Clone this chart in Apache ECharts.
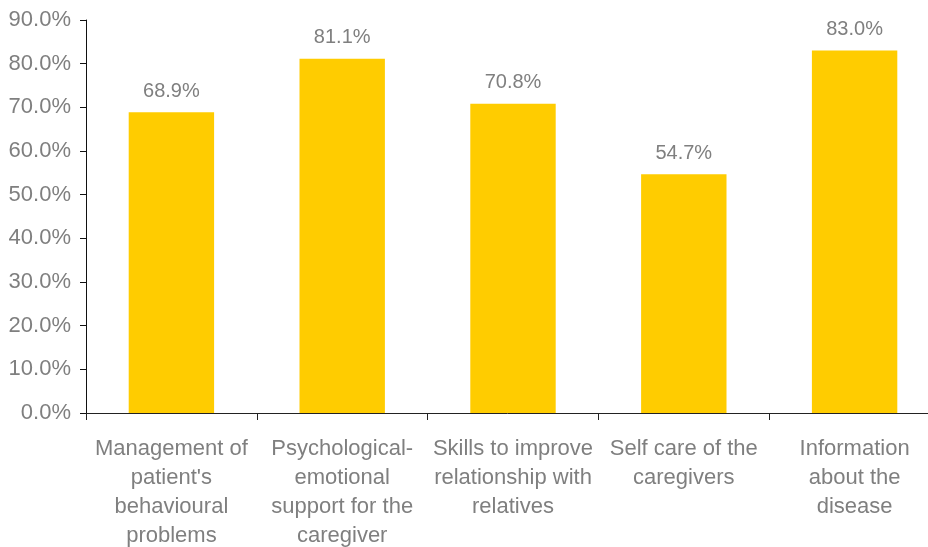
<!DOCTYPE html>
<html>
<head>
<meta charset="utf-8">
<script src="https://cdn.jsdelivr.net/npm/echarts@6/dist/echarts.min.js"></script>
<style>
  html, body { margin: 0; padding: 0; background: #fff; }
  #chart { width: 928px; height: 547px; }
</style>
</head>
<body>
<div id="chart"></div>
<script>
const categories = [
  "Management of\npatient's\nbehavioural\nproblems",
  "Psychological-\nemotional\nsupport for the\ncaregiver",
  "Skills to improve\nrelationship with\nrelatives",
  "Self care of the\ncaregivers",
  "Information\nabout the\ndisease"
];
const values = [68.9, 81.1, 70.8, 54.7, 83.0];

const textColor = "#7f7f7f";
const font = "'Liberation Sans', Arial, sans-serif";

const chart = echarts.init(document.getElementById("chart"));
chart.setOption({
  animation: false,
  grid: {
    left: 86,
    right: -12,
    top: 20,
    bottom: 134,
    outerBoundsMode: "none"
  },
  xAxis: {
    type: "category",
    data: categories,
    axisLine: { lineStyle: { color: "#222", width: 1 } },
    axisTick: { show: true, length: 7, lineStyle: { color: "#222" } },
    axisLabel: {
      interval: 0,
      margin: 21,
      color: textColor,
      fontFamily: font,
      fontSize: 22,
      lineHeight: 29
    }
  },
  yAxis: {
    type: "value",
    min: 0,
    max: 90,
    interval: 10,
    axisLine: { show: true, lineStyle: { color: "#111", width: 1 } },
    axisTick: { show: true, length: 6, lineStyle: { color: "#111" } },
    splitLine: { show: false },
    axisLabel: {
      margin: 15,
      color: textColor,
      fontFamily: font,
      fontSize: 22,
      formatter: v => v.toFixed(1) + "%"
    }
  },
  series: [{
    type: "bar",
    data: values,
    barWidth: "50%",
    itemStyle: { color: "#FFCC00" },
    label: {
      show: true,
      position: "top",
      distance: 11,
      color: textColor,
      fontFamily: font,
      fontSize: 20,
      formatter: p => p.value.toFixed(1) + "%"
    }
  }]
});
</script>
</body>
</html>
